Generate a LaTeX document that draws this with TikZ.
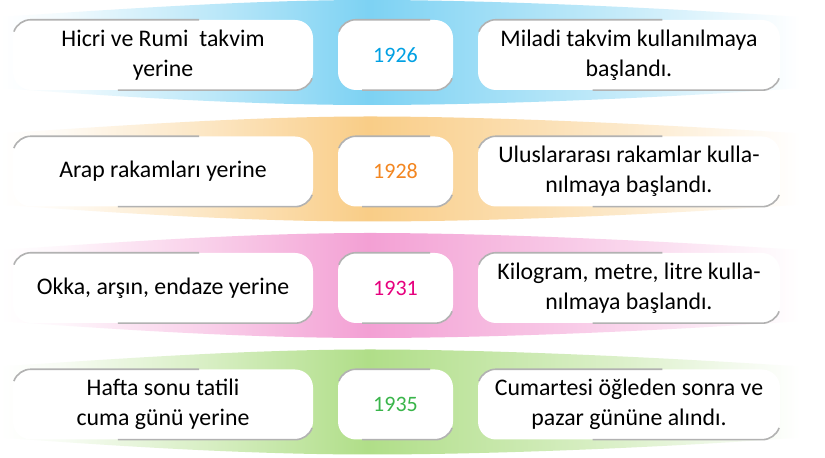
\documentclass[tikz,border=0pt]{standalone}
\usepackage{fontspec}
\setmainfont{Carlito}
\usetikzlibrary{calc}

\definecolor{band1}{RGB}{125,210,243}
\definecolor{band2}{RGB}{249,205,135}
\definecolor{band3}{RGB}{243,160,212}
\definecolor{band4}{RGB}{176,222,136}
\definecolor{year1}{RGB}{0,160,227}
\definecolor{year2}{RGB}{243,134,32}
\definecolor{year3}{RGB}{230,0,126}
\definecolor{year4}{RGB}{57,181,74}
\colorlet{band}{band1}

% the path is fitted to the 25bp--75bp part of the shading
\pgfdeclarehorizontalshading[band]{bandfade}{100bp}{color(0bp)=(white); color(25bp)=(white);
  color(29bp)=(band!10); color(31.5bp)=(band!22); color(38bp)=(band!50); color(48bp)=(band);
  color(58bp)=(band!65); color(64.5bp)=(band!42); color(71bp)=(band!15); color(75bp)=(white); color(100bp)=(white)}

\newcommand\cardfont{\fontsize{23.8bp}{30bp}\selectfont}
\newcommand\yearfont{\fontsize{22bp}{26bp}\selectfont}

\tikzset{
  card/.style={fill=white, rounded corners=18bp, minimum height=70bp, inner sep=0pt, align=center, font=\cardfont},
  rim/.style={draw=black!30, line width=1.6bp},
}

\begin{document}
\begin{tikzpicture}[x=1bp,y=1bp]
\useasboundingbox[fill=white] (0,0) rectangle (825,458);
\foreach \i/\c/\ltext/\year/\rtext in {
  1/403/{Hicri ve Rumi~ takvim\\yerine}/1926/{Miladi takvim kullanılmaya\\başlandı.},
  2/286.5/{Arap rakamları yerine}/1928/{Uluslararası rakamlar kulla-\\nılmaya başlandı.},
  3/170/{Okka, arşın, endaze yerine}/1931/{Kilogram, metre, litre kulla-\\nılmaya başlandı.},
  4/53.5/{Hafta sonu tatili\\cuma günü yerine}/1935/{Cumartesi öğleden sonra ve\\pazar gününe alındı.}}{
  % band
  \colorlet{band}{band\i}
  \shade[shading=bandfade, shift={(0,\c)}]
    (0,38) .. controls (120,46) and (250,55) .. (370,55) .. controls (500,55) and (680,46) .. (800,38)
    -- (800,-33) .. controls (680,-42) and (500,-50) .. (370,-50) .. controls (250,-50) and (120,-42) .. (0,-33) -- cycle;
  % cards
  \node[card, minimum width=300bp] (l\i) at (163,\c) {\ltext};
  \node[card, minimum width=115bp, text=year\i, font=\yearfont] (m\i) at (395.5,\c) {\year};
  \node[card, minimum width=302bp] (r\i) at (629,\c) {\rtext};
  \foreach \b/\p/\q in {l/0.62/0.35, m/0.8/0.21, r/0.61/0.38}{
    \draw[rim] ([shift={(1.1,-11.8)}]\b\i.north west) arc[start angle=160,end angle=90,radius=18bp]
      -- ($(\b\i.north west)!\p!(\b\i.north east)$);
    \draw[rim] ($(\b\i.south west)!\q!(\b\i.south east)$) -- ([xshift=-18bp]\b\i.south east)
      arc[start angle=270,end angle=340,radius=18bp];
  }
}
\end{tikzpicture}
\end{document}
